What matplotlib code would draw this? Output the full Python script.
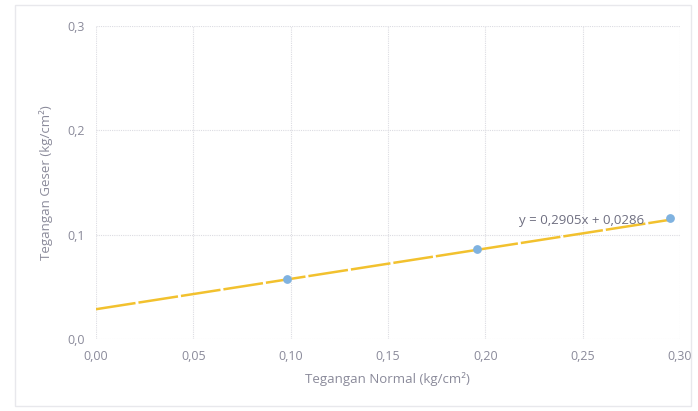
import numpy as np
import matplotlib
matplotlib.use("Agg")
import matplotlib.pyplot as plt
from matplotlib.ticker import FuncFormatter
from matplotlib.patches import Rectangle

# data
normal_stress = [0.098, 0.196, 0.295]
shear_stress = [0.0575, 0.0865, 0.1155]
slope = 0.2905
intercept = 0.0286
x_ticks = [0.00, 0.05, 0.10, 0.15, 0.20, 0.25, 0.30]
y_ticks = [0.0, 0.1, 0.2, 0.3]

plt.rcParams['font.family'] = ['Open Sans', 'DejaVu Sans']
txt_color = "#8a8a9a"

fig = plt.figure(figsize=(6.98, 4.11), dpi=100)
ax = fig.add_axes([0.1375, 0.175, 0.8365, 0.762])

# outer chart border
fig.patches.append(Rectangle((0.022, 0.012), 0.968, 0.975, transform=fig.transFigure,
                             fill=False, edgecolor="#e8e8ec", linewidth=1.0))

# trendline
xs = np.array([0.0, max(normal_stress)])
ax.plot(xs, slope * xs + intercept, color="#f2c12e", linewidth=1.8,
        dashes=(16, 1.2), zorder=2)
ax.scatter(normal_stress, shear_stress, s=28, color="#7fb2e0", zorder=3)

ax.text(0.2815, 0.1135, "y = 0,2905x + 0,0286", ha="right", va="center",
        fontsize=9.5, color="#6e6e80")

ax.set_xlim(0, 0.30)
ax.set_ylim(0, 0.3)
ax.set_xticks(x_ticks)
ax.set_yticks(y_ticks)
ax.xaxis.set_major_formatter(FuncFormatter(lambda v, p: f"{v:.2f}".replace(".", ",")))
ax.yaxis.set_major_formatter(FuncFormatter(lambda v, p: f"{v:.1f}".replace(".", ",")))
ax.tick_params(length=0, labelsize=9, colors=txt_color, pad=8)
ax.grid(True, color="#dcdce2", linestyle=(0, (1, 1)), linewidth=0.8)
for s in ax.spines.values():
    s.set_visible(False)

ax.set_xlabel("Tegangan Normal (kg/cm²)", fontsize=9.5, color=txt_color, labelpad=6)
ax.set_ylabel("Tegangan Geser (kg/cm²)", fontsize=9.5, color=txt_color, labelpad=10)

fig.savefig("out.png", dpi=100)
